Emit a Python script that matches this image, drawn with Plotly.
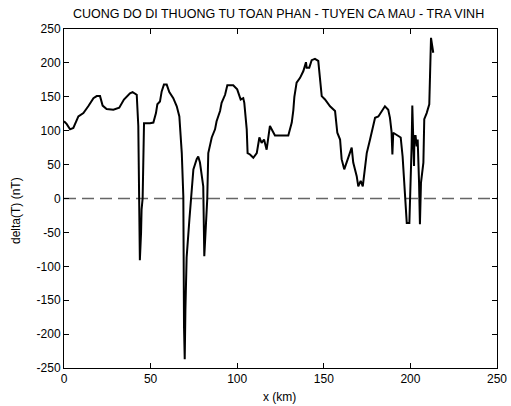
import plotly.graph_objects as go

x_km = [0, 1.5, 3.5, 5.4, 8.3, 11.2, 14, 17, 18.9, 20.8, 22.3, 24.6, 28.5, 31.9, 34.6, 38.1,
        39.6, 42, 42.9, 43.5, 43.8, 44.5, 44.8, 45.4, 46.2, 49.7, 51.6, 53.1, 53.9, 55.4,
        56.4, 57.7, 59.3, 60.8, 63.1, 65.1, 66.6, 68, 68.9, 69.3, 69.7, 70.1, 70.8, 72.4,
        73.7, 74.7, 76.6, 77.5, 78.5, 80.4, 81.0, 81.6, 82.7, 83.3, 85.3, 87.2, 88.1, 90.1,
        91, 93, 94.3, 97.7, 100, 102, 103.5, 104.1, 105.5, 106, 107.4, 109.3, 111.3, 112.8,
        114.1, 115.5, 117, 118.9, 119.9, 121.8, 129.5, 131.5, 132.4, 133, 134.3, 136.3,
        138.2, 139.7, 140.1, 141.6, 143, 144.9, 146.8, 147.8, 148.8, 150.7, 153.6, 156.5,
        157.8, 159.4, 160.3, 161.8, 164.2, 166.1, 167, 169, 169.9, 171.3, 172.5, 173.8,
        174.8, 176.7, 179.6, 181.5, 183.4, 185.3, 187.2, 188.2, 189.1, 189.6, 190.1, 192.1,
        194.4, 195.5, 196.9, 197.9, 199.4, 200.2, 200.7, 201.1, 201.7, 202.1, 202.3, 203,
        203.6, 204.2, 205, 205.5, 206.1, 207.5, 208, 209.4, 210.9, 211.3, 211.9, 212.6, 213.2]
delta_t = [114, 110, 102, 104, 121, 126, 136, 148, 151, 151, 137, 132, 131, 134, 146, 155,
           157, 153, 107, -1, -91, -50, -16, 0, 111, 111, 112, 126, 139, 143,
           158, 168, 168, 157, 148, 136, 121, 67, 3, -190, -237, -164, -87, -31,
           9, 43, 58, 62, 53, 18, -85, -46, -1, 67, 90, 102, 114, 129,
           141, 153, 167, 167, 161, 146, 148, 141, 102, 67, 65, 60, 67, 90,
           82, 87, 72, 107, 102, 93, 93, 112, 130, 150, 171, 178,
           188, 201, 193, 193, 204, 206, 203, 176, 151, 146, 136, 129,
           97, 87, 58, 43, 60, 75, 53, 33, 18, 26, 18, 48,
           67, 87, 119, 121, 129, 136, 131, 119, 99, 65, 97, 94,
           90, 62, 13, -36, -36, 28, 77, 137, 87, 48, 92, 92,
           77, 87, 23, -38, 23, 53, 117, 126, 139, 180, 237, 225, 215]

x_ticks = [0, 50, 100, 150, 200, 250]
y_ticks = [-250, -200, -150, -100, -50, 0, 50, 100, 150, 200, 250]

title_text = "CUONG DO DI THUONG TU TOAN PHAN - TUYEN CA MAU - TRA VINH"
x_label = "x (km)"
y_label = "delta(T) (nT)"

FONT = "Liberation Sans, Arial, sans-serif"

fig = go.Figure()
fig.add_trace(go.Scatter(x=x_km, y=delta_t, mode="lines",
                         line=dict(color="black", width=2), showlegend=False,
                         hoverinfo="skip"))

fig.add_shape(type="line", xref="paper", yref="y", x0=0, x1=1, y0=0, y1=0,
              line=dict(color="#666666", width=1.3, dash="12px,6px"), layer="below")

axis_common = dict(showline=True, linecolor="black", linewidth=1, mirror="ticks",
                   ticks="inside", ticklen=5, tickcolor="black", showgrid=False,
                   zeroline=False, automargin=False,
                   tickfont=dict(family=FONT, size=12, color="black"))

fig.update_xaxes(range=[0, 250], tickvals=x_ticks, ticktext=[str(v) for v in x_ticks], **axis_common)
fig.update_yaxes(range=[-250, 250], tickvals=y_ticks, ticktext=[str(v) for v in y_ticks], **axis_common)

fig.update_layout(
    width=511, height=406,
    margin=dict(l=64, r=14, t=29, b=38),
    paper_bgcolor="white", plot_bgcolor="white",
    font=dict(family=FONT, size=12, color="black"),
    annotations=[
        dict(text=title_text, xref="paper", yref="paper", x=0.496, y=1.0, yshift=15,
             showarrow=False, xanchor="center", yanchor="middle",
             font=dict(family=FONT, size=12.5, color="black")),
        dict(text=x_label, xref="paper", yref="paper", x=0.497, y=0, yshift=-29,
             showarrow=False, xanchor="center", yanchor="middle",
             font=dict(family=FONT, size=12, color="black")),
        dict(text=y_label, xref="paper", yref="paper", x=0, xshift=-48, y=0.463,
             showarrow=False, xanchor="center", yanchor="middle", textangle=-90,
             font=dict(family=FONT, size=12, color="black")),
    ],
)

fig.write_html("out.html", config={"displayModeBar": False},
               post_script="document.body.style.margin='0';document.body.style.overflow='hidden';")
